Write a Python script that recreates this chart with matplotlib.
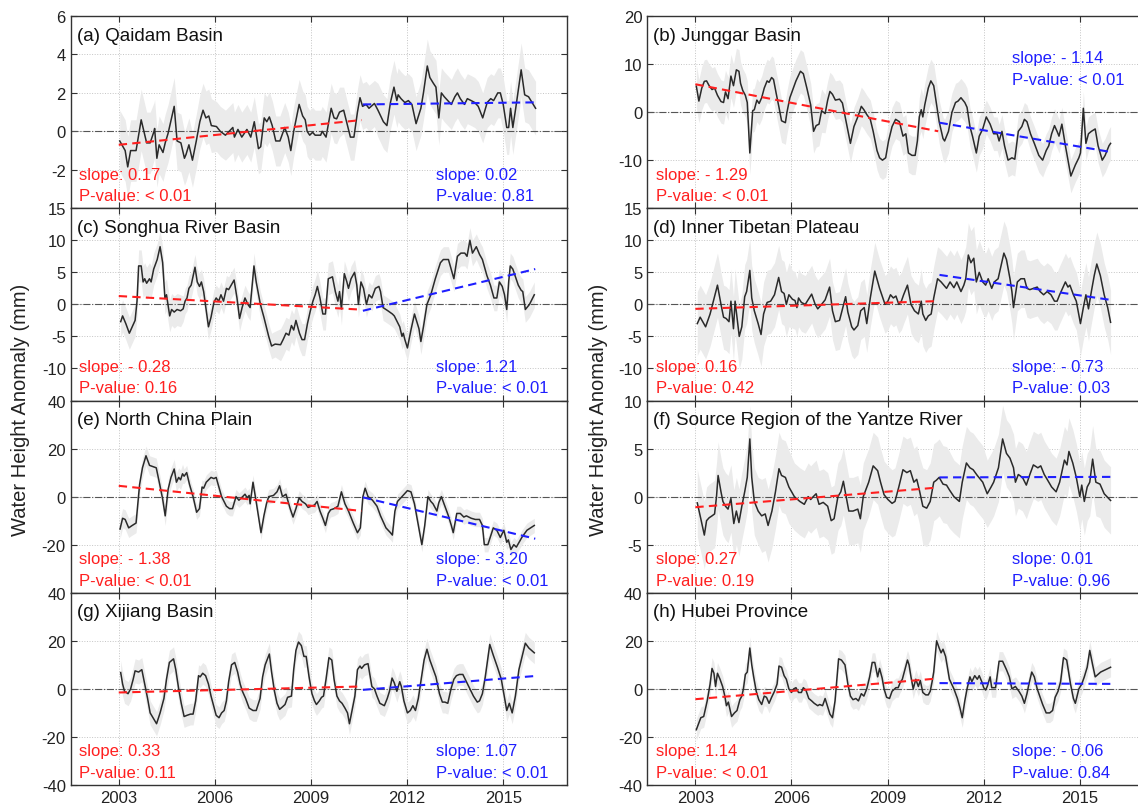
import numpy as np
import matplotlib
matplotlib.use("Agg")
import matplotlib.pyplot as plt

plt.rcParams['font.family'] = ['Liberation Sans', 'DejaVu Sans']
plt.rcParams['axes.unicode_minus'] = False

# monthly water height anomaly (mm) as (year, value)
qaidam = [(2003.03,-0.5),(2003.20,-1.0),(2003.28,-1.85),(2003.37,-1.0),(2003.54,-1.0),(2003.70,0.6),(2003.87,-0.6),(2003.98,-0.6),
	(2004.10,0.0),(2004.12,0.15),(2004.19,-1.4),(2004.26,-0.7),(2004.38,-1.1),(2004.45,-0.6),(2004.54,-0.1),(2004.73,1.3),(2004.82,-0.5),(2004.94,-0.6),
	(2005.05,-1.4),(2005.10,-1.2),(2005.19,-0.7),(2005.30,-1.5),(2005.42,-0.5),(2005.53,0.5),(2005.63,1.1),(2005.72,0.7),(2005.81,0.8),(2005.89,0.3),
	(2006.05,0.25),(2006.17,0.0),(2006.33,-0.2),(2006.56,0.2),(2006.61,-0.3),(2006.72,0.1),(2006.84,-0.3),(2007.00,0.1),(2007.12,-0.3),(2007.23,0.5),
	(2007.36,-0.9),(2007.43,-0.8),(2007.54,0.7),(2007.62,0.5),(2007.70,0.75),(2007.79,0.3),(2007.90,-0.5),(2008.03,-0.5),(2008.18,0.2),(2008.29,-0.3),
	(2008.37,-1.0),(2008.46,0.0),(2008.63,1.4),(2008.74,0.8),(2008.82,0.6),(2008.88,0.0),(2008.96,-0.2),(2009.05,-0.05),(2009.13,-0.2),(2009.30,-0.2),
	(2009.35,0.0),(2009.47,-0.3),(2009.63,1.2),(2009.72,0.7),(2009.80,0.65),(2009.89,1.0),(2010.02,1.1),(2010.14,0.3),(2010.23,-0.3),(2010.34,-0.3),
	(2010.45,1.0),(2010.53,1.75),(2010.61,1.3),(2010.72,1.4),(2010.81,1.2),(2010.98,1.45),(2011.09,1.1),(2011.26,0.5),(2011.37,0.3),(2011.48,1.5),
	(2011.59,2.3),(2011.68,1.6),(2011.72,1.9),(2011.81,1.7),(2011.93,1.5),(2012.04,1.6),(2012.15,1.4),(2012.28,0.4),(2012.43,1.2),(2012.51,2.0),
	(2012.63,3.4),(2012.71,2.8),(2012.82,2.5),(2012.90,2.3),(2012.99,0.7),(2013.07,2.0),(2013.16,1.8),(2013.27,1.6),(2013.38,1.4),(2013.49,1.8),
	(2013.57,2.0),(2013.66,1.7),(2013.79,1.4),(2013.88,1.7),(2014.00,1.6),(2014.11,1.5),(2014.22,1.3),(2014.36,0.7),(2014.50,1.5),(2014.61,1.7),
	(2014.70,1.6),(2014.83,2.0),(2014.91,2.0),(2015.00,1.4),(2015.11,0.2),(2015.17,0.2),(2015.23,1.2),(2015.30,0.2),(2015.39,1.2),(2015.56,3.2),
	(2015.67,1.9),(2015.79,1.8),(2015.90,1.5),(2016.01,1.2)]

junggar = [(2003.03,5.4),(2003.11,2.3),(2003.20,5.0),(2003.28,6.4),(2003.35,6.5),(2003.43,5.5),(2003.52,4.7),(2003.60,5.0),(2003.69,3.5),(2003.80,2.2),
	(2003.88,2.0),(2003.94,4.2),(2004.02,2.8),(2004.11,7.5),(2004.19,5.5),(2004.28,8.8),(2004.36,8.5),(2004.41,6.0),(2004.48,4.5),(2004.56,3.5),
	(2004.62,2.0),(2004.70,-8.5),(2004.79,0.3),(2004.84,0.5),(2004.92,2.5),(2004.99,1.8),(2005.07,3.0),(2005.15,5.0),(2005.24,6.5),(2005.30,6.2),
	(2005.38,7.2),(2005.44,6.8),(2005.52,4.0),(2005.61,1.0),(2005.69,-1.8),(2005.81,-2.2),(2005.86,0.0),(2005.95,3.0),(2006.03,4.5),(2006.14,6.5),
	(2006.28,8.5),(2006.37,8.0),(2006.48,5.0),(2006.60,1.5),(2006.69,-4.0),(2006.77,-2.8),(2006.86,-2.5),(2006.94,0.3),(2007.05,-0.3),(2007.13,2.5),
	(2007.20,4.3),(2007.28,3.7),(2007.37,2.5),(2007.50,2.7),(2007.59,1.9),(2007.69,-1.5),(2007.84,-6.5),(2007.95,-3.0),(2008.07,-1.0),(2008.18,1.2),
	(2008.26,0.5),(2008.35,-0.5),(2008.46,-1.5),(2008.55,-4.0),(2008.67,-8.0),(2008.75,-9.5),(2008.84,-10.0),(2008.94,-9.5),(2009.03,-6.0),(2009.14,-3.0),
	(2009.25,-1.5),(2009.37,-2.0),(2009.48,-5.0),(2009.57,-4.5),(2009.65,-8.5),(2009.76,-9.0),(2009.86,-9.0),(2009.93,-6.0),(2009.99,-1.0),(2010.05,0.5),
	(2010.10,-1.0),(2010.16,1.5),(2010.27,5.0),(2010.35,6.5),(2010.44,5.5),(2010.52,2.0),(2010.61,-2.0),(2010.73,-5.5),(2010.78,-6.0),(2010.90,-4.0),
	(2011.01,0.0),(2011.12,2.0),(2011.20,2.3),(2011.29,3.0),(2011.41,2.0),(2011.48,1.0),(2011.57,-3.0),(2011.65,-5.0),(2011.77,-8.5),(2011.86,-5.0),
	(2011.97,-3.5),(2012.08,-1.0),(2012.20,-2.5),(2012.31,-4.5),(2012.42,-4.5),(2012.48,-6.0),(2012.57,-4.0),(2012.65,-7.0),(2012.76,-10.0),(2012.88,-9.5),
	(2012.97,-9.8),(2013.08,-4.0),(2013.19,-3.0),(2013.27,-1.5),(2013.35,-2.0),(2013.46,-4.5),(2013.58,-6.5),(2013.72,-9.0),(2013.84,-10.0),(2013.95,-8.0),
	(2014.03,-7.0),(2014.12,-4.5),(2014.21,-2.8),(2014.29,-4.0),(2014.35,-5.0),(2014.44,-2.5),(2014.55,-7.0),(2014.72,-13.3),(2014.86,-11.0),(2014.97,-9.5),
	(2015.02,-8.5),(2015.11,0.8),(2015.19,-6.5),(2015.27,-4.5),(2015.36,-4.0),(2015.48,-3.5),(2015.57,-7.0),(2015.70,-10.0),(2015.79,-9.0),(2015.91,-7.0),
	(2015.96,-6.5)]

songhua = [(2003.06,-2.7),(2003.12,-1.8),(2003.22,-3.0),(2003.33,-4.5),(2003.42,-3.5),(2003.51,-2.5),(2003.57,0.5),(2003.62,6.0),(2003.70,6.0),
	(2003.76,3.5),(2003.81,4.0),(2003.87,3.3),(2003.96,4.0),(2004.01,3.5),(2004.09,5.5),(2004.20,7.0),(2004.29,9.0),(2004.37,6.5),(2004.44,1.0),
	(2004.49,1.5),(2004.59,-1.8),(2004.65,-0.8),(2004.73,-1.2),(2004.82,-0.8),(2004.93,-1.0),(2005.01,-0.7),(2005.07,0.5),(2005.13,1.0),(2005.19,2.5),
	(2005.26,3.0),(2005.38,5.8),(2005.45,3.5),(2005.52,2.8),(2005.58,3.5),(2005.65,2.0),(2005.73,-1.0),(2005.80,-3.5),(2005.88,-2.0),(2005.97,0.3),
	(2006.04,1.0),(2006.12,0.5),(2006.19,1.5),(2006.27,0.5),(2006.36,2.5),(2006.43,2.3),(2006.60,3.8),(2006.69,1.0),(2006.77,-2.2),(2006.85,-0.5),
	(2006.94,1.0),(2007.03,0.0),(2007.10,-0.5),(2007.22,6.0),(2007.29,3.5),(2007.42,0.0),(2007.53,-2.0),(2007.68,-5.0),(2007.77,-6.5),(2007.88,-6.2),
	(2008.05,-6.3),(2008.13,-5.5),(2008.22,-4.5),(2008.31,-4.8),(2008.39,-3.3),(2008.46,-4.0),(2008.53,-2.5),(2008.64,-4.5),(2008.72,-5.5),(2008.80,-5.5),
	(2008.89,-3.0),(2008.98,-1.0),(2009.06,0.5),(2009.13,1.5),(2009.20,2.8),(2009.28,1.0),(2009.37,-1.5),(2009.45,-1.5),(2009.54,4.0),(2009.67,4.3),
	(2009.76,2.0),(2009.84,0.5),(2009.89,2.0),(2009.95,-0.7),(2010.04,4.8),(2010.12,3.5),(2010.17,2.5),(2010.25,4.0),(2010.36,5.0),(2010.43,3.0),
	(2010.48,0.0),(2010.56,3.5),(2010.64,2.5),(2010.73,0.0),(2010.81,1.5),(2010.90,1.0),(2011.01,2.5),(2011.12,2.8),(2011.17,2.0),(2011.25,-0.5),
	(2011.40,-1.0),(2011.54,-1.5),(2011.60,-1.8),(2011.77,-3.5),(2011.84,-5.0),(2011.88,-4.5),(2011.93,-5.5),(2012.01,-6.8),(2012.12,-4.0),(2012.23,-1.5),
	(2012.29,-2.5),(2012.37,-3.8),(2012.43,-5.8),(2012.51,-3.5),(2012.62,0.0),(2012.74,1.5),(2012.88,4.0),(2013.04,6.5),(2013.13,7.0),(2013.29,7.0),
	(2013.46,4.0),(2013.57,7.5),(2013.68,8.0),(2013.80,8.0),(2013.87,7.5),(2013.96,10.0),(2014.04,8.0),(2014.16,9.0),(2014.26,7.8),(2014.35,7.0),
	(2014.49,4.5),(2014.60,3.0),(2014.71,1.0),(2014.80,1.0),(2014.88,3.5),(2014.97,2.8),(2015.04,1.5),(2015.11,-0.8),(2015.17,3.5),(2015.22,6.0),
	(2015.30,5.5),(2015.38,4.3),(2015.47,3.0),(2015.56,2.2),(2015.61,2.0),(2015.69,-0.8),(2015.82,0.0),(2015.97,1.5)]

tibet = [(2003.06,-3.0),(2003.15,-2.0),(2003.32,-3.5),(2003.46,-1.5),(2003.69,3.0),(2003.80,0.0),(2003.88,-2.0),(2003.96,-2.2),(2004.05,-2.7),
	(2004.11,0.5),(2004.19,-3.8),(2004.24,0.5),(2004.37,-5.0),(2004.45,-3.5),(2004.54,1.2),(2004.60,2.0),(2004.70,5.3),(2004.76,1.0),(2004.84,-1.0),
	(2004.96,-3.0),(2005.05,-4.7),(2005.13,-1.5),(2005.24,0.3),(2005.35,0.5),(2005.47,1.5),(2005.60,4.2),(2005.69,2.0),(2005.77,1.7),(2005.84,0.0),
	(2005.92,1.5),(2006.03,0.8),(2006.11,0.6),(2006.17,-0.5),(2006.22,1.0),(2006.31,0.3),(2006.43,0.0),(2006.63,1.6),(2006.74,0.0),(2006.82,-0.7),
	(2006.94,0.0),(2007.05,0.7),(2007.19,2.7),(2007.28,-1.0),(2007.37,-2.7),(2007.50,-2.5),(2007.69,1.2),(2007.76,-1.2),(2007.88,-3.5),(2007.95,-4.0),
	(2008.07,-3.3),(2008.16,-1.0),(2008.27,-0.5),(2008.35,-3.0),(2008.46,1.0),(2008.60,5.2),(2008.75,2.5),(2008.92,0.0),(2009.01,0.5),(2009.09,1.5),
	(2009.18,1.0),(2009.26,1.3),(2009.35,0.0),(2009.43,0.5),(2009.50,1.5),(2009.62,3.0),(2009.73,0.0),(2009.84,-1.0),(2009.96,-1.5),(2010.05,0.5),
	(2010.10,-1.5),(2010.19,-2.5),(2010.27,-1.8),(2010.36,-1.5),(2010.44,1.0),(2010.56,4.0),(2010.67,3.5),(2010.84,2.5),(2010.95,3.5),(2011.07,2.6),
	(2011.16,3.5),(2011.29,2.0),(2011.38,3.0),(2011.44,4.0),(2011.52,7.7),(2011.60,6.5),(2011.69,7.2),(2011.77,3.5),(2011.86,5.0),(2011.97,3.5),
	(2012.06,3.0),(2012.14,4.0),(2012.25,2.5),(2012.33,3.5),(2012.45,4.0),(2012.54,6.0),(2012.63,8.0),(2012.71,7.0),(2012.82,4.0),(2012.88,2.0),
	(2012.93,-0.5),(2013.05,3.5),(2013.16,4.0),(2013.27,4.0),(2013.35,2.5),(2013.44,2.3),(2013.55,2.5),(2013.67,2.7),(2013.76,2.0),(2013.87,1.5),
	(2013.98,2.0),(2014.10,1.5),(2014.21,0.5),(2014.29,0.5),(2014.37,1.5),(2014.55,3.5),(2014.63,2.7),(2014.69,3.0),(2014.80,1.5),(2014.89,0.5),
	(2015.02,-3.0),(2015.11,-0.5),(2015.19,1.5),(2015.27,-0.7),(2015.36,2.0),(2015.45,4.5),(2015.53,6.3),(2015.64,4.5),(2015.76,1.5),(2015.87,-0.5),
	(2015.96,-2.8)]

north_china = [(2003.04,-13.5),(2003.12,-9.0),(2003.20,-9.5),(2003.31,-13.0),(2003.42,-12.0),(2003.54,-11.0),(2003.65,5.0),(2003.74,12.0),(2003.85,17.0),
	(2003.96,13.0),(2004.07,12.5),(2004.17,12.0),(2004.28,5.0),(2004.37,-1.0),(2004.45,-8.0),(2004.54,3.0),(2004.63,8.0),(2004.73,11.5),(2004.80,6.0),
	(2004.87,8.0),(2004.93,7.0),(2004.99,9.5),(2005.04,8.5),(2005.12,10.0),(2005.21,5.0),(2005.32,0.0),(2005.43,-6.5),(2005.52,-5.0),(2005.60,4.0),
	(2005.65,3.5),(2005.73,6.0),(2005.88,8.0),(2005.97,7.5),(2006.04,8.0),(2006.21,0.0),(2006.36,-4.0),(2006.46,-5.0),(2006.55,-5.0),(2006.66,0.0),
	(2006.75,-1.5),(2006.83,-0.5),(2006.94,1.0),(2007.01,-0.5),(2007.07,0.5),(2007.10,-3.0),(2007.19,6.0),(2007.30,-3.0),(2007.44,-15.0),(2007.53,-8.0),
	(2007.61,-3.0),(2007.68,0.0),(2007.83,0.5),(2007.94,2.0),(2008.02,4.5),(2008.11,0.0),(2008.22,1.0),(2008.35,-5.0),(2008.44,-8.5),(2008.53,-5.0),
	(2008.63,-0.5),(2008.72,-2.0),(2008.83,-3.0),(2008.91,-4.5),(2009.00,-4.0),(2009.11,-3.5),(2009.19,-2.0),(2009.28,-6.0),(2009.37,-9.0),(2009.45,-12.0),
	(2009.54,-7.0),(2009.61,-5.5),(2009.72,-5.0),(2009.84,-4.0),(2009.95,2.0),(2010.06,-3.0),(2010.17,-6.0),(2010.32,-11.0),(2010.45,-15.0),(2010.54,-13.0),
	(2010.62,0.0),(2010.69,3.5),(2010.78,0.0),(2010.92,-1.5),(2011.06,-4.0),(2011.17,-8.0),(2011.34,-13.0),(2011.48,-15.0),(2011.54,-16.0),(2011.62,-6.0),
	(2011.70,-2.0),(2011.84,0.0),(2012.01,2.5),(2012.12,2.0),(2012.23,-3.0),(2012.35,-12.0),(2012.46,-20.0),(2012.55,-12.0),(2012.65,0.0),(2012.74,-2.0),
	(2012.81,-3.0),(2012.93,-6.0),(2012.99,-2.5),(2013.07,0.0),(2013.18,-4.0),(2013.29,-8.0),(2013.38,-12.0),(2013.44,-15.0),(2013.55,-7.0),(2013.66,-7.0),
	(2013.77,-8.5),(2013.85,-8.0),(2014.00,-9.0),(2014.13,-9.5),(2014.26,-9.5),(2014.35,-12.0),(2014.41,-20.0),(2014.52,-20.0),(2014.69,-13.0),(2014.80,-14.0),
	(2014.91,-17.0),(2015.02,-14.0),(2015.11,-19.0),(2015.16,-18.0),(2015.24,-22.0),(2015.33,-20.0),(2015.41,-21.0),(2015.58,-17.0),(2015.74,-14.0),(2015.97,-12.0)]

yantze = [(2003.06,-0.65),(2003.17,-2.3),(2003.28,-4.0),(2003.35,-2.5),(2003.43,-2.2),(2003.52,-2.0),(2003.60,-1.8),(2003.66,0.0),(2003.71,2.2),
	(2003.80,0.5),(2003.86,-0.5),(2003.94,-1.0),(2004.02,-1.3),(2004.11,-0.2),(2004.20,-2.8),(2004.28,-1.5),(2004.36,-2.7),(2004.45,-1.0),(2004.54,0.5),
	(2004.62,2.0),(2004.70,6.0),(2004.76,2.0),(2004.84,-0.5),(2004.96,-1.5),(2005.07,-2.0),(2005.18,-1.8),(2005.27,-3.0),(2005.39,-1.5),(2005.50,0.5),
	(2005.61,2.9),(2005.69,2.2),(2005.81,2.0),(2005.92,1.0),(2006.09,0.0),(2006.26,-0.5),(2006.40,-0.8),(2006.52,0.0),(2006.60,-0.3),(2006.68,0.0),
	(2006.77,0.3),(2006.86,-0.8),(2006.99,-0.6),(2007.13,-1.0),(2007.24,-2.5),(2007.33,-2.3),(2007.45,0.0),(2007.54,0.5),(2007.62,1.6),(2007.69,0.3),
	(2007.79,-1.5),(2007.92,-1.5),(2008.07,-1.3),(2008.15,-2.3),(2008.24,0.0),(2008.41,1.5),(2008.55,3.2),(2008.69,2.7),(2008.78,1.5),(2008.89,0.2),
	(2009.01,-0.3),(2009.14,-0.7),(2009.23,-0.5),(2009.35,1.0),(2009.48,2.8),(2009.60,2.5),(2009.71,2.7),(2009.82,1.5),(2009.91,1.8),(2009.99,0.7),
	(2010.10,-1.0),(2010.22,-1.2),(2010.33,-0.5),(2010.44,1.5),(2010.52,1.7),(2010.61,2.0),(2010.73,1.3),(2010.84,1.2),(2010.93,0.7),(2011.07,0.0),
	(2011.24,-0.5),(2011.33,1.5),(2011.46,3.5),(2011.57,3.0),(2011.67,2.8),(2011.80,2.2),(2011.97,1.5),(2012.11,0.3),(2012.23,1.0),(2012.31,1.5),
	(2012.46,3.0),(2012.59,6.0),(2012.71,4.5),(2012.82,4.0),(2012.93,3.0),(2012.99,1.5),(2013.08,2.3),(2013.21,2.0),(2013.33,1.2),(2013.44,2.3),
	(2013.55,3.3),(2013.69,3.0),(2013.78,3.2),(2013.89,2.3),(2013.98,1.8),(2014.12,1.0),(2014.26,0.5),(2014.37,1.5),(2014.52,3.8),(2014.60,3.3),
	(2014.66,4.7),(2014.78,3.5),(2014.89,2.0),(2015.00,0.0),(2015.06,1.2),(2015.14,-0.5),(2015.23,1.0),(2015.31,1.5),(2015.40,3.9),(2015.50,1.5),
	(2015.63,1.3),(2015.76,0.3),(2015.96,-0.4)]

xijiang = [(2003.06,6.8),(2003.12,2.0),(2003.18,-1.0),(2003.29,-2.0),(2003.37,0.0),(2003.45,4.0),(2003.51,7.5),(2003.62,7.0),(2003.72,8.0),
	(2003.81,2.0),(2003.90,-4.0),(2003.98,-10.0),(2004.07,-12.0),(2004.18,-14.5),(2004.29,-10.0),(2004.41,-4.0),(2004.49,4.0),(2004.58,11.0),(2004.71,12.5),
	(2004.78,8.0),(2004.87,0.0),(2004.95,-6.0),(2005.04,-11.5),(2005.13,-11.0),(2005.24,-10.5),(2005.32,-10.5),(2005.40,-5.0),(2005.49,5.5),(2005.54,5.0),
	(2005.62,6.5),(2005.71,5.5),(2005.80,2.0),(2005.88,-3.0),(2005.96,-7.0),(2006.04,-11.0),(2006.13,-12.0),(2006.21,-10.0),(2006.29,-9.0),(2006.36,-5.0),
	(2006.43,3.0),(2006.52,10.0),(2006.62,11.0),(2006.71,7.0),(2006.79,2.0),(2006.86,-1.0),(2006.96,-4.0),(2007.07,-8.0),(2007.19,-9.0),(2007.29,-9.0),
	(2007.41,-4.0),(2007.49,5.0),(2007.57,10.0),(2007.70,14.5),(2007.77,7.0),(2007.86,-1.0),(2007.94,-6.0),(2008.02,-8.5),(2008.11,-7.5),(2008.19,-6.5),
	(2008.27,-3.5),(2008.39,-3.0),(2008.46,8.0),(2008.53,16.0),(2008.61,19.5),(2008.70,18.0),(2008.78,13.5),(2008.85,13.5),(2008.94,5.0),(2009.03,-2.0),
	(2009.11,-5.0),(2009.17,-6.5),(2009.26,-5.0),(2009.33,-3.5),(2009.39,-3.0),(2009.47,4.0),(2009.56,13.0),(2009.65,12.0),(2009.72,4.0),(2009.81,-3.0),
	(2009.89,-5.0),(2009.97,-6.0),(2010.06,-8.0),(2010.14,-10.0),(2010.20,-14.5),(2010.28,-9.0),(2010.37,-3.0),(2010.45,8.0),(2010.53,9.5),(2010.58,8.5),
	(2010.67,10.0),(2010.78,10.5),(2010.90,1.0),(2010.98,0.0),(2011.06,-3.0),(2011.15,-6.0),(2011.29,-7.0),(2011.38,-4.0),(2011.45,-1.0),(2011.53,4.5),
	(2011.60,2.5),(2011.68,-1.0),(2011.77,3.0),(2011.82,1.0),(2011.90,-5.0),(2012.01,-10.0),(2012.10,-9.0),(2012.18,-7.0),(2012.26,-9.0),(2012.35,-4.0),
	(2012.43,3.0),(2012.53,12.0),(2012.62,16.5),(2012.71,12.0),(2012.82,8.0),(2012.90,5.0),(2013.01,-2.0),(2013.10,-5.5),(2013.18,-5.5),(2013.27,-6.0),
	(2013.37,0.0),(2013.46,4.0),(2013.54,5.5),(2013.63,6.0),(2013.74,6.0),(2013.85,3.0),(2013.96,0.0),(2014.07,-3.0),(2014.19,-5.5),(2014.26,-5.0),
	(2014.35,-2.0),(2014.44,5.0),(2014.58,18.5),(2014.69,14.0),(2014.82,9.0),(2014.94,4.0),(2015.02,-2.0),(2015.11,-9.0),(2015.19,-6.0),(2015.28,-10.0),
	(2015.38,-3.0),(2015.49,8.0),(2015.58,13.0),(2015.69,19.0),(2015.80,17.0),(2015.97,15.0)]

hubei = [(2003.03,-17.0),(2003.17,-12.0),(2003.26,-11.5),(2003.37,-5.0),(2003.46,2.0),(2003.52,8.5),(2003.58,6.5),(2003.63,1.0),(2003.69,6.5),
	(2003.77,4.0),(2003.85,1.0),(2003.92,-3.0),(2003.97,-7.0),(2004.03,-5.5),(2004.13,-11.5),(2004.22,-10.0),(2004.30,-9.0),(2004.39,-4.5),(2004.45,-3.0),
	(2004.50,0.0),(2004.56,6.0),(2004.62,7.0),(2004.70,17.0),(2004.76,10.0),(2004.82,5.0),(2004.90,-1.0),(2004.98,-4.5),(2005.07,-6.5),(2005.15,-3.0),
	(2005.22,-3.5),(2005.30,-6.0),(2005.38,-3.5),(2005.47,-1.0),(2005.55,2.0),(2005.61,9.5),(2005.69,9.0),(2005.77,5.5),(2005.84,4.0),(2005.92,0.0),
	(2006.00,-1.5),(2006.07,0.0),(2006.14,0.5),(2006.22,-1.5),(2006.31,-1.5),(2006.37,0.5),(2006.45,-0.5),(2006.54,-4.0),(2006.63,-5.0),(2006.71,-6.0),
	(2006.82,-7.0),(2006.88,-6.5),(2006.97,-7.0),(2007.05,-4.0),(2007.13,-7.5),(2007.20,-10.5),(2007.28,-12.0),(2007.36,-5.0),(2007.47,12.5),(2007.56,12.0),
	(2007.67,10.0),(2007.76,2.0),(2007.84,-3.0),(2007.92,-4.5),(2008.01,-4.0),(2008.09,-5.0),(2008.18,-2.0),(2008.26,-3.0),(2008.35,0.0),(2008.44,5.0),
	(2008.52,11.0),(2008.60,11.0),(2008.69,5.0),(2008.75,8.5),(2008.83,4.5),(2008.89,0.0),(2008.97,-3.5),(2009.06,-4.0),(2009.14,-1.0),(2009.26,0.5),
	(2009.33,0.5),(2009.39,2.5),(2009.46,4.0),(2009.62,12.0),(2009.67,10.0),(2009.73,5.0),(2009.80,0.0),(2009.88,4.0),(2009.96,1.0),(2010.02,3.5),
	(2010.10,-1.5),(2010.19,-2.5),(2010.27,-2.5),(2010.33,-1.0),(2010.39,3.0),(2010.44,7.0),(2010.53,20.0),(2010.61,17.0),(2010.67,15.0),(2010.73,16.5),
	(2010.81,13.5),(2010.93,4.0),(2011.07,0.0),(2011.18,-4.0),(2011.26,-8.0),(2011.33,-12.0),(2011.41,-5.0),(2011.48,0.0),(2011.57,5.0),(2011.63,3.0),
	(2011.72,5.5),(2011.80,4.0),(2011.86,5.5),(2011.94,3.0),(2012.00,0.5),(2012.06,-0.5),(2012.11,1.0),(2012.20,5.0),(2012.25,0.5),(2012.37,0.5),
	(2012.48,11.5),(2012.59,11.5),(2012.71,8.0),(2012.80,5.0),(2012.88,0.0),(2012.99,1.0),(2013.10,-1.0),(2013.19,-3.0),(2013.27,-6.0),(2013.35,-2.0),
	(2013.42,2.5),(2013.50,7.0),(2013.58,5.0),(2013.67,0.0),(2013.76,-3.5),(2013.84,-6.5),(2013.95,-10.0),(2014.06,-10.0),(2014.15,-9.0),(2014.23,-3.5),
	(2014.32,-1.0),(2014.40,3.0),(2014.49,13.0),(2014.59,12.0),(2014.71,2.0),(2014.80,-4.0),(2014.86,-6.0),(2014.97,0.0),(2015.06,2.0),(2015.14,5.0),
	(2015.23,9.0),(2015.31,16.0),(2015.40,10.0),(2015.48,5.0),(2015.65,7.0),(2015.96,9.0)]

# half width of the grey uncertainty band, one value per year 2003..2016
band_qaidam = [1.6, 1.5, 1.4, 1.3, 1.3, 1.3, 1.3, 1.2, 1.4, 1.4, 1.3, 1.3, 1.4, 1.4]
band_junggar = [4.5, 4.5, 4.5, 4.5, 4, 4, 4, 4.5, 4, 3.5, 3.5, 3.5, 3.5, 4]
band_songhua = [2.5, 2.5, 2, 2, 2, 2.5, 2.5, 2, 2, 2, 2, 2, 2, 2]
band_tibet = [5, 5, 5, 4.5, 4.5, 4.5, 4.5, 5, 5, 5, 4.5, 4.5, 5, 5]
band_north_china = [4, 4, 3, 3, 3, 3, 3, 3, 3, 3, 3, 3, 3, 4]
band_yantze = [3.5, 3.5, 3.8, 3.5, 3.5, 3.5, 3.5, 4, 3.8, 3.5, 3.5, 3.5, 3.5, 3.8]
band_xijiang = [5, 5, 4.5, 4.5, 4.5, 4.5, 4.5, 4.5, 4.5, 4.5, 4.5, 4.5, 4.5, 5]
band_hubei = [4.5, 4.5, 4, 4, 4, 4, 4, 4, 4, 4, 4, 4, 4, 4.5]

titles = ["(a) Qaidam Basin", "(b) Junggar Basin", "(c) Songhua River Basin", "(d) Inner Tibetan Plateau",
	"(e) North China Plain", "(f) Source Region of the Yantze River", "(g) Xijiang Basin", "(h) Hubei Province"]
series = [qaidam, junggar, songhua, tibet, north_china, yantze, xijiang, hubei]
bands = [band_qaidam, band_junggar, band_songhua, band_tibet, band_north_china, band_yantze, band_xijiang, band_hubei]
ylims = [(-4, 6), (-20, 20), (-15, 15), (-15, 15), (-40, 40), (-10, 10), (-40, 40), (-40, 40)]
yticks = [[-2, 0, 2, 4, 6], [-10, 0, 10, 20], [-10, -5, 0, 5, 10, 15], [-10, -5, 0, 5, 10, 15],
	[-20, 0, 20, 40], [-5, 0, 5, 10], [-40, -20, 0, 20, 40], [-40, -20, 0, 20, 40]]

# trend before / after mid 2010: slope (mm/yr), p-value, value at start of period
period1 = (2003.0, 2010.58)
period2 = (2010.62, 2016.0)
slope1 = [0.17, -1.29, -0.28, 0.16, -1.38, 0.27, 0.33, 1.14]
p1 = ["< 0.01", "< 0.01", "0.16", "0.42", "< 0.01", "0.19", "0.11", "< 0.01"]
start1 = [-0.7, 5.8, 1.3, -0.7, 4.5, -1.1, -1.5, -4.3]
slope2 = [0.02, -1.14, 1.21, -0.73, -3.20, 0.01, 1.07, -0.06]
p2 = ["0.81", "< 0.01", "< 0.01", "0.03", "< 0.01", "0.96", "< 0.01", "0.84"]
start2 = [1.4, -2.2, -1.0, 4.6, -0.3, 2.0, -0.4, 2.4]

years = [2003, 2006, 2009, 2012, 2015]
RED = '#ff1f1f'
BLUE = '#1f1fff'


def slope_text(s):
	if s < 0:
		return "slope: - %.2f" % abs(s)
	return "slope: %.2f" % s


fig = plt.figure(figsize=(11.38, 8.12), dpi=100)
W, H = 1138.0, 812.0
ax_w = 496.6 / W
ax_h = 192.25 / H
lefts = [70.7 / W, 647.3 / W]

for i in range(8):
	row, col = i // 2, i % 2
	bottom = 1 - (17 + 192.25 * (row + 1)) / H
	ax = fig.add_axes([lefts[col], bottom, ax_w, ax_h])

	d = np.array(series[i])
	t, v = d[:, 0], d[:, 1]
	idx = np.clip(t.astype(int) - 2003, 0, 13)
	w = np.array(bands[i])[idx]
	ax.fill_between(t, v - w, v + w, color='#ebebeb', lw=0, zorder=1)
	ax.axhline(0, color='#555555', ls='-.', lw=0.8, zorder=2)
	ax.plot(t, v, color='#2a2a2a', lw=1.1, zorder=3)

	x1 = np.array(period1)
	ax.plot(x1, start1[i] + slope1[i] * (x1 - x1[0]), color=RED, ls=(0, (4, 2.5)), lw=1.5, zorder=4)
	x2 = np.array(period2)
	ax.plot(x2, start2[i] + slope2[i] * (x2 - x2[0]), color=BLUE, ls=(0, (4, 2.5)), lw=1.5, zorder=4)

	ax.set_xlim(2001.5, 2017)
	ax.set_ylim(*ylims[i])
	ax.set_xticks(years)
	ax.set_yticks(yticks[i])
	ax.grid(True, ls=':', color='#c4c4c4', lw=0.7, zorder=0)
	ax.set_axisbelow(True)
	ax.tick_params(direction='in', top=True, right=True, length=4, labelsize=12, labelcolor='#222222', color='#333333')
	if row < 3:
		ax.set_xticklabels([])
	for sp in ax.spines.values():
		sp.set_color('#333333')
		sp.set_linewidth(1.0)

	ax.text(0.012, 0.90, titles[i], transform=ax.transAxes, fontsize=13.5, color='#111111', va='center', ha='left')
	ax.text(0.017, 0.178, slope_text(slope1[i]), transform=ax.transAxes, fontsize=12, color=RED, va='center')
	ax.text(0.017, 0.066, "P-value: " + p1[i], transform=ax.transAxes, fontsize=12, color=RED, va='center')
	if i == 1:
		yb = (0.783, 0.67)
	else:
		yb = (0.178, 0.066)
	ax.text(0.735, yb[0], slope_text(slope2[i]), transform=ax.transAxes, fontsize=12, color=BLUE, va='center')
	ax.text(0.735, yb[1], "P-value: " + p2[i], transform=ax.transAxes, fontsize=12, color=BLUE, va='center')

fig.text(20.5 / W, 1 - 410 / H, "Water Height Anomaly (mm)", rotation=90, fontsize=14.5, ha='center', va='center', color='#222222')
fig.text(599 / W, 1 - 410 / H, "Water Height Anomaly (mm)", rotation=90, fontsize=14.5, ha='center', va='center', color='#222222')

fig.savefig("out.png", dpi=100)
